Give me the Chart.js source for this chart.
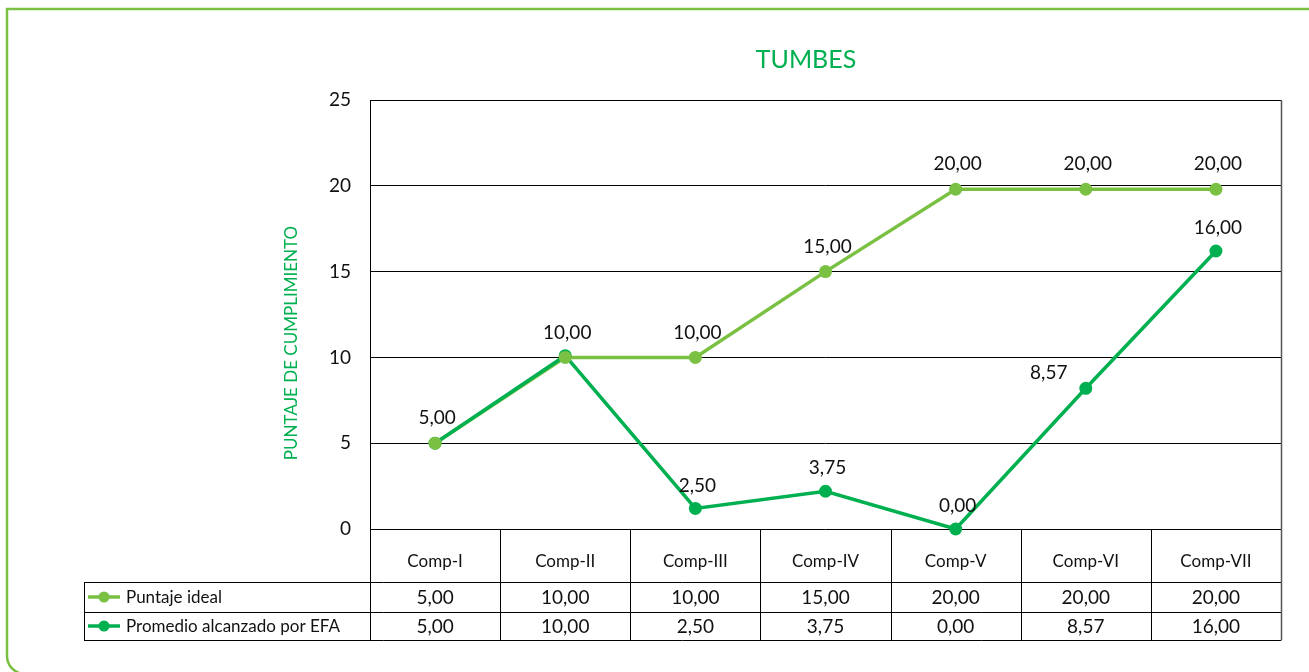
<!DOCTYPE html>
<html lang="es">
<head>
<meta charset="utf-8">
<title>TUMBES</title>
<script src="https://cdn.jsdelivr.net/npm/chart.js@4/dist/chart.umd.min.js"></script>
<style>
  html, body { margin: 0; padding: 0; background: #fff; }
  canvas { display: block; }
</style>
</head>
<body>
<canvas id="grafico" width="1309" height="672"></canvas>
<script>
// Categorías del eje X
const categorias = ['Comp-I', 'Comp-II', 'Comp-III', 'Comp-IV', 'Comp-V', 'Comp-VI', 'Comp-VII'];
// Valores de la tabla (y etiquetas)
const puntajeIdeal = [5, 10, 10, 15, 20, 20, 20];
const promedioEFA = [5, 10, 2.5, 3.75, 0, 8.57, 16];
// Posición de los puntos tal como aparecen dibujados en el gráfico
const idealGrafico = [5, 10, 10, 15, 19.8, 19.8, 19.8];
const promedioGrafico = [5, 10.1, 1.2, 2.2, 0, 8.2, 16.2];
// Marcas del eje Y
const ticksY = [0, 5, 10, 15, 20, 25];

const VERDE_CLARO = '#7ac143';
const VERDE = '#00b050';
const FUENTE = 'Lato, "Noto Sans", sans-serif';

const fmt = v => v.toFixed(2).replace('.', ',');

// Marco verde exterior, título y título del eje Y
const marco = {
    id: 'marco',
    beforeDraw(chart) {
        const ctx = chart.ctx;
        ctx.save();
        ctx.fillStyle = '#fff';
        ctx.fillRect(0, 0, chart.width, chart.height);
        ctx.strokeStyle = VERDE_CLARO;
        ctx.lineWidth = 2.5;
        const r = 18, izq = 7, arr = 9, aba = 674;
        ctx.beginPath();
        ctx.moveTo(chart.width + 10, arr);
        ctx.lineTo(izq, arr);
        ctx.lineTo(izq, aba - r);
        ctx.arcTo(izq, aba, izq + r, aba, r);
        ctx.lineTo(chart.width + 10, aba);
        ctx.stroke();

        ctx.fillStyle = VERDE;
        ctx.font = '25px ' + FUENTE;
        ctx.textAlign = 'center';
        ctx.textBaseline = 'middle';
        ctx.fillText('TUMBES', 806, 60);

        // título del eje Y (no va centrado en el eje)
        ctx.translate(292, 343);
        ctx.rotate(-Math.PI / 2);
        ctx.font = '17px ' + FUENTE;
        ctx.fillText('PUNTAJE DE CUMPLIMIENTO', 0, 0);
        ctx.restore();
    }
};

// Etiquetas de datos encima de cada punto
const etiquetas = {
    id: 'etiquetas',
    afterDatasetsDraw(chart) {
        const ctx = chart.ctx;
        ctx.save();
        ctx.font = '19px ' + FUENTE;
        ctx.fillStyle = '#111';
        ctx.textAlign = 'center';
        ctx.textBaseline = 'middle';
        const idealPts = chart.getDatasetMeta(2).data;
        const promPts = chart.getDatasetMeta(1).data;
        idealPts.forEach((p, i) => ctx.fillText(fmt(puntajeIdeal[i]), p.x + 2, p.y - 25));
        promPts.forEach((p, i) => {
            if (promedioEFA[i] === puntajeIdeal[i]) return;
            let dx = 2, dy = -23;
            if (i === 5) { dx = -37; dy = -15; }  // 8,57 va a la izquierda
            ctx.fillText(fmt(promedioEFA[i]), p.x + dx, p.y + dy);
        });
        ctx.restore();
    }
};

// Bordes del área, tabla de datos y leyenda
const tabla = {
    id: 'tabla',
    afterDraw(chart) {
        const ctx = chart.ctx;
        const a = chart.chartArea;
        const x = chart.scales.x;
        const ancho = (a.right - a.left) / categorias.length;
        const fila1 = a.bottom + 53, fila2 = fila1 + 30, fin = fila2 + 28;
        const leyIzq = 84;
        ctx.save();
        ctx.strokeStyle = '#000';
        ctx.lineWidth = 1;
        const linea = (x1, y1, x2, y2) => {
            ctx.beginPath();
            ctx.moveTo(x1, y1);
            ctx.lineTo(x2, y2);
            ctx.stroke();
        };
        linea(a.left + 0.5, a.top, a.left + 0.5, fin);
        linea(a.left, a.top + 0.5, a.right, a.top + 0.5);
        for (let i = 1; i < categorias.length; i++) {
            const cx = Math.round(a.left + ancho * i) + 0.5;
            linea(cx, a.bottom, cx, fin);
        }
        [fila1, fila2, fin].forEach(y => linea(leyIzq, y + 0.5, a.right, y + 0.5));
        linea(leyIzq + 0.5, fila1, leyIzq + 0.5, fin);
        ctx.strokeStyle = '#555';
        ctx.lineWidth = 1.5;
        linea(a.right + 0.5, a.top, a.right + 0.5, fin + 0.5);

        // valores
        ctx.fillStyle = '#111';
        ctx.font = '19px ' + FUENTE;
        ctx.textAlign = 'center';
        ctx.textBaseline = 'middle';
        categorias.forEach((c, i) => {
            const cx = x.getPixelForValue(i);
            ctx.fillText(fmt(puntajeIdeal[i]), cx, (fila1 + fila2) / 2 + 1);
            ctx.fillText(fmt(promedioEFA[i]), cx, (fila2 + fin) / 2 + 1);
        });

        // leyenda
        const series = [['Puntaje ideal', VERDE_CLARO, (fila1 + fila2) / 2], ['Promedio alcanzado por EFA', VERDE, (fila2 + fin) / 2]];
        ctx.textAlign = 'left';
        ctx.font = '17px ' + FUENTE;
        series.forEach(([txt, col, y]) => {
            ctx.strokeStyle = col;
            ctx.fillStyle = col;
            ctx.lineWidth = 3.5;
            linea(88, y, 120, y);
            ctx.beginPath();
            ctx.arc(104, y, 5.5, 0, Math.PI * 2);
            ctx.fill();
            ctx.fillStyle = '#111';
            ctx.fillText(txt, 126, y + 1);
        });
        ctx.restore();
    }
};

const ctx = document.getElementById('grafico').getContext('2d');
new Chart(ctx, {
    type: 'line',
    data: {
        labels: categorias,
        datasets: [
            {
                label: 'Puntaje ideal',
                data: idealGrafico,
                borderColor: VERDE_CLARO,
                borderWidth: 3.5,
                pointRadius: 0,
                order: 3
            },
            {
                label: 'Promedio alcanzado por EFA',
                data: promedioGrafico,
                borderColor: VERDE,
                backgroundColor: VERDE,
                borderWidth: 3.5,
                pointRadius: 6.5,
                pointBorderWidth: 0,
                order: 2
            },
            {
                // marcadores del puntaje ideal por encima de todo
                label: 'Puntaje ideal (puntos)',
                data: idealGrafico,
                showLine: false,
                borderColor: VERDE_CLARO,
                backgroundColor: VERDE_CLARO,
                pointRadius: 6.5,
                pointBorderWidth: 0,
                order: 1
            }
        ]
    },
    options: {
        responsive: false,
        animation: false,
        clip: false,
        layout: { padding: { left: 283, top: 100, right: 28, bottom: 0 } },
        plugins: {
            legend: { display: false },
            title: { display: false },
            tooltip: { enabled: false }
        },
        scales: {
            x: {
                offset: true,
                grid: { display: false },
                border: { display: false },
                ticks: {
                    color: '#111',
                    font: { family: FUENTE, size: 17 },
                    padding: 14,
                    maxRotation: 0
                },
                afterFit: s => { s.height = 143; }
            },
            y: {
                min: 0,
                max: 25,
                afterBuildTicks: s => { s.ticks = ticksY.map(v => ({ value: v })); },
                grid: { color: '#000', lineWidth: 1, drawTicks: false },
                border: { display: false },
                ticks: {
                    color: '#111',
                    font: { family: FUENTE, size: 19 },
                    padding: 19
                },
                afterFit: s => { s.width = 87; }
            }
        }
    },
    plugins: [marco, etiquetas, tabla]
});
</script>
</body>
</html>
